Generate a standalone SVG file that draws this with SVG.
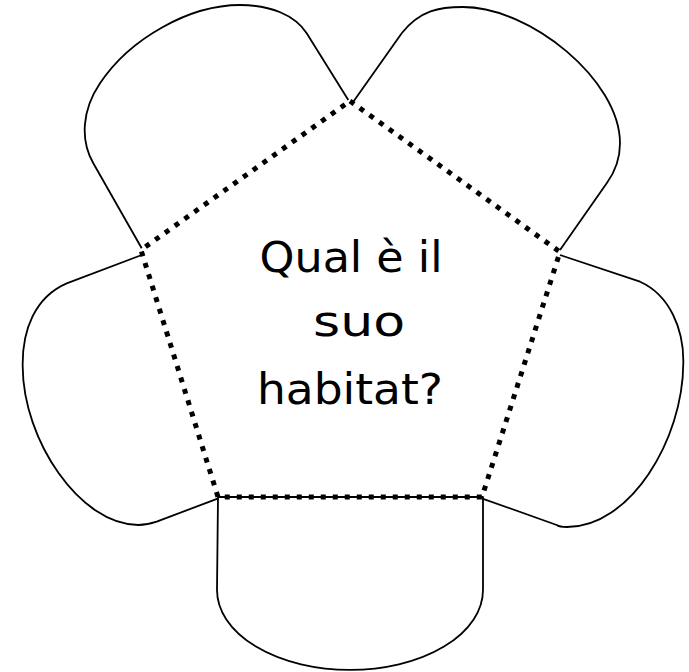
<svg xmlns="http://www.w3.org/2000/svg" width="689" height="672" viewBox="0 0 689 672">
<style>
.petal{fill:none;stroke:#000;stroke-width:1.8;stroke-linejoin:round}
.dots{fill:none;stroke:#000;stroke-width:5;stroke-dasharray:5 7}
.lbl{font-family:"DejaVu Sans","Liberation Sans",sans-serif;font-size:42px;fill:#000;text-anchor:middle}
</style>
<rect width="689" height="672" fill="#fff"/>
<g id="petal-top-left"><path class="petal" d="M141.7,248.3 L93.3,163.3 C80,140 82,110 100,83.3 C130,38 190,5 240,5 C270,5 295,15 306.7,33.3 L348.3,100"/></g>
<g id="petal-top-right"><path class="petal" d="M353.3,101.7 L401.7,33.3 C420,10 440,7 463,7 C530,7 620,80 620,143.3 C620,160 615,172 606.7,183.3 L560,250"/></g>
<g id="petal-right"><path class="petal" d="M560,255 L640,281.7 C670,295 684,330 683.3,363.3 C683,440 630,527 567,527 C562,527 558,526 556.7,525 L481.7,498.3"/></g>
<g id="petal-bottom"><path class="petal" d="M218,497 L217,590 A133,80 0 0 0 483,590 L483,497 Z"/></g>
<g id="petal-left"><path class="petal" d="M141.7,255 L66.7,283.3 C35,297 22,330 22.7,366.7 C23,440 80,525 138.3,525 C145,525 150,524 156.7,521.7 L218.3,498.3"/></g>
<g id="pentagon"><path class="dots" d="M350,101 L560,252 L482,497 L218,497 L141,250 Z"/></g>
<g id="label">
<text class="lbl" x="351" y="272" textLength="183" lengthAdjust="spacingAndGlyphs">Qual è il</text>
<text class="lbl" x="359" y="336" textLength="92" lengthAdjust="spacingAndGlyphs">suo</text>
<text class="lbl" x="350" y="404" textLength="186" lengthAdjust="spacingAndGlyphs">habitat?</text>
</g>
</svg>
